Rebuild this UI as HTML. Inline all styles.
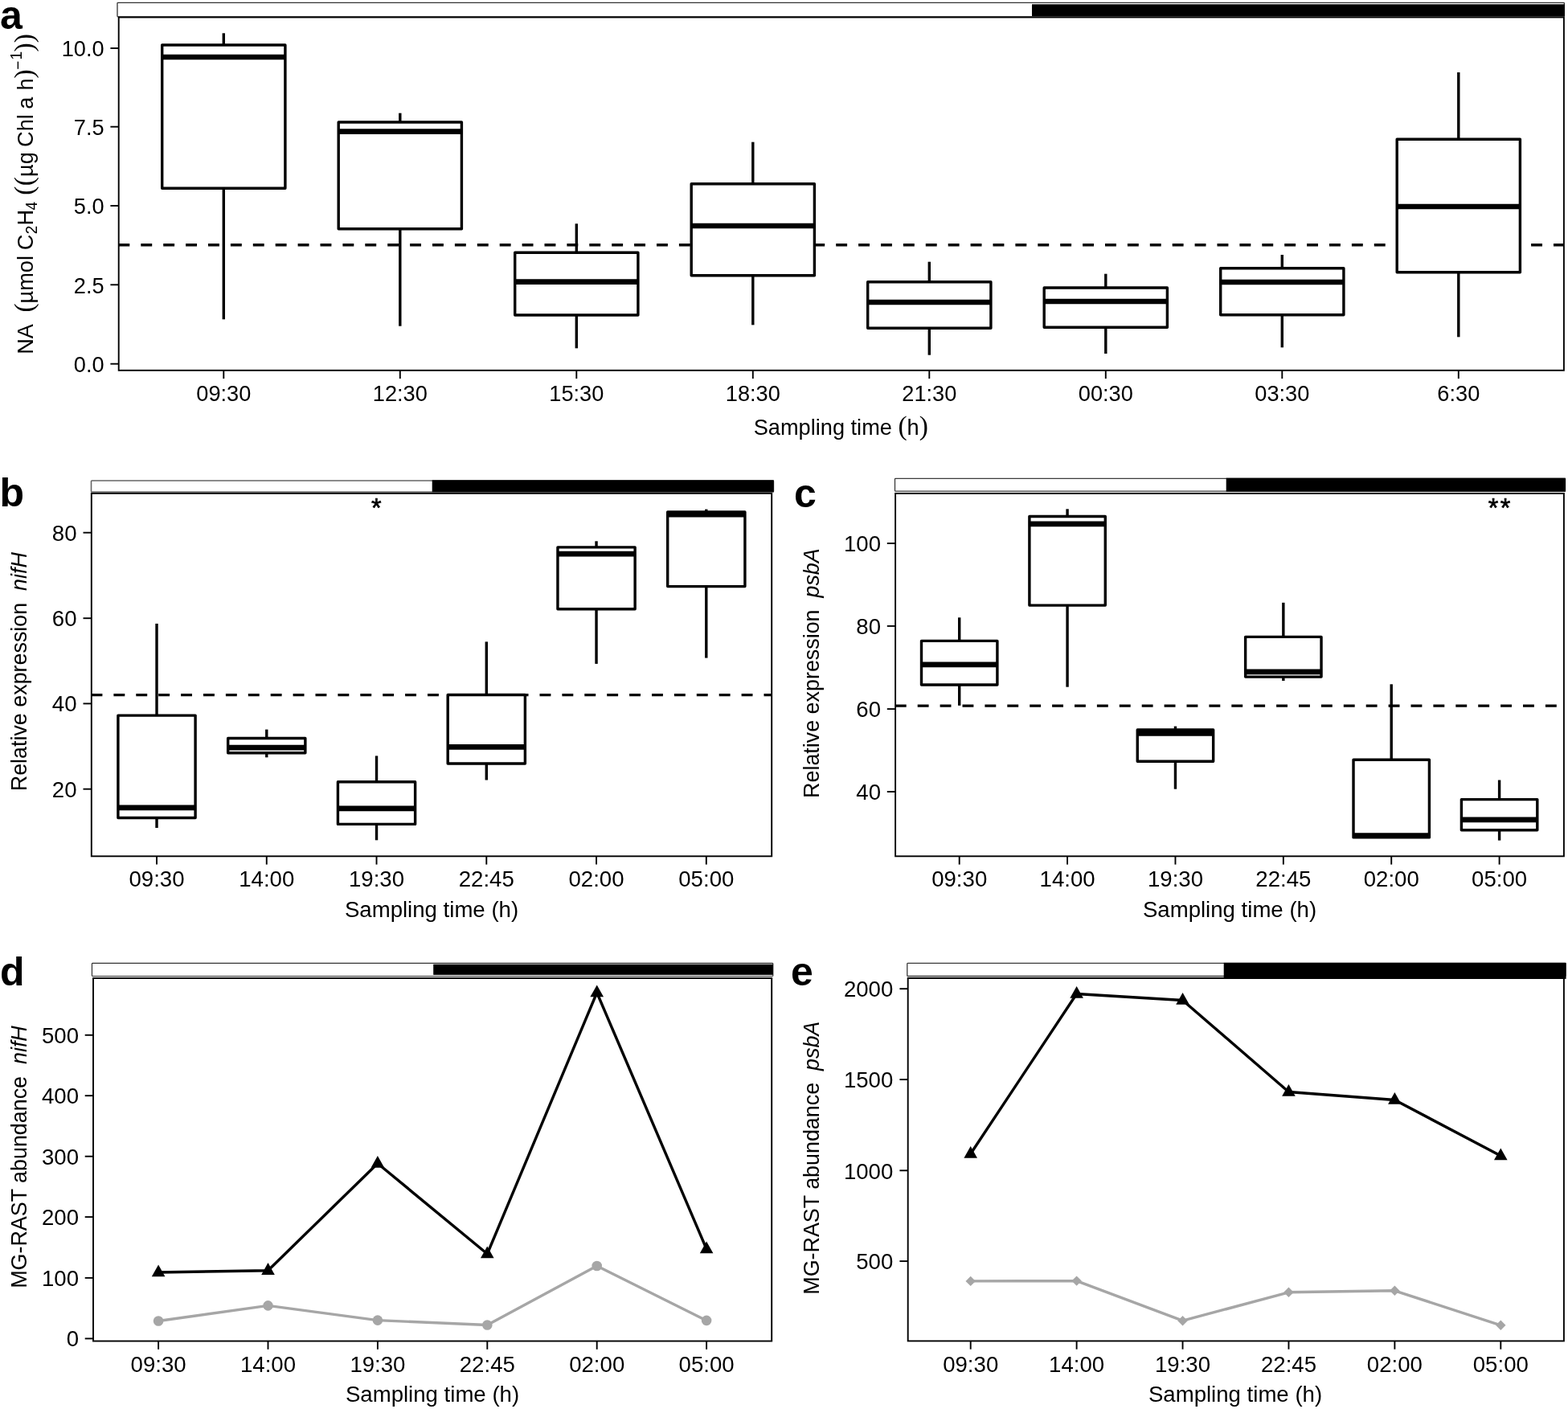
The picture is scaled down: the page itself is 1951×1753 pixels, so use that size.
<!DOCTYPE html>
<html lang="en">
<head>
<meta charset="utf-8">
<title>Figure: diel nitrogenase activity and gene expression</title>
<style>
html,body{margin:0;padding:0;background:#fff;}
body{width:1951px;height:1753px;overflow:hidden;}
svg{display:block;font-family:"Liberation Sans",Arial,Helvetica,sans-serif;fill:#000;}
</style>
</head>
<body>
<svg xmlns="http://www.w3.org/2000/svg" width="1951" height="1753" viewBox="0 0 1951 1753">
<rect width="1951" height="1753" fill="#fff"/>
<rect x="146.00" y="3.30" width="1800.40" height="17.60" rx="0.8" fill="#fff" stroke="#333" stroke-width="1.3"/>
<rect x="1284.00" y="5.30" width="662.90" height="14.70" fill="#000"/>
<rect x="147.70" y="21.50" width="1798.20" height="439.30" fill="none" stroke="#000" stroke-width="1.9"/>
<line x1="147.70" y1="304.70" x2="1945.90" y2="304.70" stroke="#000" stroke-width="3.4" stroke-dasharray="13.9 14.0" stroke-dashoffset="0.3"/>
<line x1="278.30" y1="41.30" x2="278.30" y2="56.00" stroke="#000" stroke-width="3.4" />
<line x1="278.30" y1="234.30" x2="278.30" y2="397.30" stroke="#000" stroke-width="3.4" />
<rect x="201.70" y="56.00" width="153.20" height="178.30" fill="#fff" stroke="#000" stroke-width="3.4" stroke-linejoin="round"/>
<line x1="201.70" y1="71.00" x2="354.90" y2="71.00" stroke="#000" stroke-width="6.7" />
<line x1="497.80" y1="140.70" x2="497.80" y2="152.00" stroke="#000" stroke-width="3.4" />
<line x1="497.80" y1="284.70" x2="497.80" y2="405.70" stroke="#000" stroke-width="3.4" />
<rect x="421.20" y="152.00" width="153.20" height="132.70" fill="#fff" stroke="#000" stroke-width="3.4" stroke-linejoin="round"/>
<line x1="421.20" y1="163.70" x2="574.40" y2="163.70" stroke="#000" stroke-width="6.7" />
<line x1="717.30" y1="278.30" x2="717.30" y2="314.30" stroke="#000" stroke-width="3.4" />
<line x1="717.30" y1="392.00" x2="717.30" y2="433.30" stroke="#000" stroke-width="3.4" />
<rect x="640.70" y="314.30" width="153.20" height="77.70" fill="#fff" stroke="#000" stroke-width="3.4" stroke-linejoin="round"/>
<line x1="640.70" y1="350.70" x2="793.90" y2="350.70" stroke="#000" stroke-width="6.7" />
<line x1="936.80" y1="176.70" x2="936.80" y2="228.70" stroke="#000" stroke-width="3.4" />
<line x1="936.80" y1="342.70" x2="936.80" y2="404.30" stroke="#000" stroke-width="3.4" />
<rect x="860.20" y="228.70" width="153.20" height="114.00" fill="#fff" stroke="#000" stroke-width="3.4" stroke-linejoin="round"/>
<line x1="860.20" y1="281.00" x2="1013.40" y2="281.00" stroke="#000" stroke-width="6.7" />
<line x1="1156.30" y1="325.70" x2="1156.30" y2="350.70" stroke="#000" stroke-width="3.4" />
<line x1="1156.30" y1="408.30" x2="1156.30" y2="441.70" stroke="#000" stroke-width="3.4" />
<rect x="1079.70" y="350.70" width="153.20" height="57.60" fill="#fff" stroke="#000" stroke-width="3.4" stroke-linejoin="round"/>
<line x1="1079.70" y1="376.00" x2="1232.90" y2="376.00" stroke="#000" stroke-width="6.7" />
<line x1="1375.80" y1="340.70" x2="1375.80" y2="358.00" stroke="#000" stroke-width="3.4" />
<line x1="1375.80" y1="407.30" x2="1375.80" y2="440.00" stroke="#000" stroke-width="3.4" />
<rect x="1299.20" y="358.00" width="153.20" height="49.30" fill="#fff" stroke="#000" stroke-width="3.4" stroke-linejoin="round"/>
<line x1="1299.20" y1="375.00" x2="1452.40" y2="375.00" stroke="#000" stroke-width="6.7" />
<line x1="1595.30" y1="317.00" x2="1595.30" y2="333.70" stroke="#000" stroke-width="3.4" />
<line x1="1595.30" y1="391.70" x2="1595.30" y2="432.30" stroke="#000" stroke-width="3.4" />
<rect x="1518.70" y="333.70" width="153.20" height="58.00" fill="#fff" stroke="#000" stroke-width="3.4" stroke-linejoin="round"/>
<line x1="1518.70" y1="351.00" x2="1671.90" y2="351.00" stroke="#000" stroke-width="6.7" />
<line x1="1814.80" y1="90.00" x2="1814.80" y2="173.30" stroke="#000" stroke-width="3.4" />
<line x1="1814.80" y1="338.70" x2="1814.80" y2="419.30" stroke="#000" stroke-width="3.4" />
<rect x="1738.20" y="173.30" width="153.20" height="165.40" fill="#fff" stroke="#000" stroke-width="3.4" stroke-linejoin="round"/>
<line x1="1738.20" y1="257.00" x2="1891.40" y2="257.00" stroke="#000" stroke-width="6.7" />
<line x1="278.30" y1="460.80" x2="278.30" y2="471.10" stroke="#000" stroke-width="1.9" />
<text transform="translate(278.30,498.70) scale(0.985,1.035)" text-anchor="middle" font-size="27.6" >09:30</text>
<line x1="497.80" y1="460.80" x2="497.80" y2="471.10" stroke="#000" stroke-width="1.9" />
<text transform="translate(497.80,498.70) scale(0.985,1.035)" text-anchor="middle" font-size="27.6" >12:30</text>
<line x1="717.30" y1="460.80" x2="717.30" y2="471.10" stroke="#000" stroke-width="1.9" />
<text transform="translate(717.30,498.70) scale(0.985,1.035)" text-anchor="middle" font-size="27.6" >15:30</text>
<line x1="936.80" y1="460.80" x2="936.80" y2="471.10" stroke="#000" stroke-width="1.9" />
<text transform="translate(936.80,498.70) scale(0.985,1.035)" text-anchor="middle" font-size="27.6" >18:30</text>
<line x1="1156.30" y1="460.80" x2="1156.30" y2="471.10" stroke="#000" stroke-width="1.9" />
<text transform="translate(1156.30,498.70) scale(0.985,1.035)" text-anchor="middle" font-size="27.6" >21:30</text>
<line x1="1375.80" y1="460.80" x2="1375.80" y2="471.10" stroke="#000" stroke-width="1.9" />
<text transform="translate(1375.80,498.70) scale(0.985,1.035)" text-anchor="middle" font-size="27.6" >00:30</text>
<line x1="1595.30" y1="460.80" x2="1595.30" y2="471.10" stroke="#000" stroke-width="1.9" />
<text transform="translate(1595.30,498.70) scale(0.985,1.035)" text-anchor="middle" font-size="27.6" >03:30</text>
<line x1="1814.80" y1="460.80" x2="1814.80" y2="471.10" stroke="#000" stroke-width="1.9" />
<text transform="translate(1814.80,498.70) scale(0.985,1.035)" text-anchor="middle" font-size="27.6" >6:30</text>
<line x1="137.40" y1="60.00" x2="147.70" y2="60.00" stroke="#000" stroke-width="1.9" />
<text transform="translate(129.60,70.40) scale(0.985,1.035)" text-anchor="end" font-size="27.6" >10.0</text>
<line x1="137.40" y1="157.70" x2="147.70" y2="157.70" stroke="#000" stroke-width="1.9" />
<text transform="translate(129.60,168.10) scale(0.985,1.035)" text-anchor="end" font-size="27.6" >7.5</text>
<line x1="137.40" y1="256.00" x2="147.70" y2="256.00" stroke="#000" stroke-width="1.9" />
<text transform="translate(129.60,266.40) scale(0.985,1.035)" text-anchor="end" font-size="27.6" >5.0</text>
<line x1="137.40" y1="354.30" x2="147.70" y2="354.30" stroke="#000" stroke-width="1.9" />
<text transform="translate(129.60,364.70) scale(0.985,1.035)" text-anchor="end" font-size="27.6" >2.5</text>
<line x1="137.40" y1="452.70" x2="147.70" y2="452.70" stroke="#000" stroke-width="1.9" />
<text transform="translate(129.60,463.10) scale(0.985,1.035)" text-anchor="end" font-size="27.6" >0.0</text>
<text transform="translate(0.0,35.5) scale(1,1)" font-size="50" font-weight="bold">a</text>
<text transform="translate(937.70,540.50) scale(0.985,1.035)" text-anchor="start" font-size="27.6" >Sampling time</text>
<text transform="translate(1117.40,541.00) scale(1,1)" text-anchor="start" font-size="33.5" font-family="Liberation Serif, serif">(</text>
<text transform="translate(1128.40,540.50) scale(0.985,1.035)" text-anchor="start" font-size="27.6" >h</text>
<text transform="translate(1143.80,541.00) scale(1,1)" text-anchor="start" font-size="33.5" font-family="Liberation Serif, serif">)</text>
<text transform="translate(41,440.80) rotate(-90) scale(0.985,1.035)" font-size="27.6">NA</text>
<text transform="translate(40.5,388.50) rotate(-90)" font-size="33.5" font-family="Liberation Serif, serif">(</text>
<text transform="translate(41,377.50) rotate(-90) scale(0.985,1.035)" font-size="27.6">µmol</text>
<text transform="translate(41,311.30) rotate(-90) scale(0.985,1.035)" font-size="27.6">C</text>
<text transform="translate(46.2,291.30) rotate(-90) scale(0.985,1.035)" font-size="19.3">2</text>
<text transform="translate(41,280.40) rotate(-90) scale(0.985,1.035)" font-size="27.6">H</text>
<text transform="translate(46.2,261.40) rotate(-90) scale(0.985,1.035)" font-size="19.3">4</text>
<text transform="translate(40.5,242.80) rotate(-90)" font-size="33.5" font-family="Liberation Serif, serif">(</text>
<text transform="translate(40.5,231.20) rotate(-90)" font-size="33.5" font-family="Liberation Serif, serif">(</text>
<text transform="translate(41,219.90) rotate(-90) scale(0.985,1.035)" font-size="27.6">µg</text>
<text transform="translate(41,182.90) rotate(-90) scale(0.985,1.035)" font-size="27.6">Chl</text>
<text transform="translate(41,135.70) rotate(-90) scale(0.985,1.035)" font-size="27.6">a</text>
<text transform="translate(41,112.60) rotate(-90) scale(0.985,1.035)" font-size="27.6">h</text>
<text transform="translate(40.5,97.40) rotate(-90)" font-size="33.5" font-family="Liberation Serif, serif">)</text>
<text transform="translate(28.6,86.70) rotate(-90) scale(0.985,1.035)" font-size="19.3">−</text>
<text transform="translate(27.2,74.50) rotate(-90) scale(0.985,1.035)" font-size="19.3">1</text>
<text transform="translate(40.5,64.50) rotate(-90)" font-size="33.5" font-family="Liberation Serif, serif">)</text>
<text transform="translate(40.5,53.30) rotate(-90)" font-size="33.5" font-family="Liberation Serif, serif">)</text>
<rect x="113.50" y="598.00" width="848.90" height="14.00" rx="0.8" fill="#fff" stroke="#666" stroke-width="1.6"/>
<rect x="537.70" y="597.30" width="425.10" height="14.90" fill="#000"/>
<rect x="113.80" y="613.80" width="846.40" height="451.50" fill="none" stroke="#000" stroke-width="1.9"/>
<line x1="113.80" y1="864.60" x2="960.20" y2="864.60" stroke="#000" stroke-width="3.4" stroke-dasharray="13.9 14.0" stroke-dashoffset="0.3"/>
<line x1="195.00" y1="775.90" x2="195.00" y2="890.10" stroke="#000" stroke-width="3.4" />
<line x1="195.00" y1="1017.50" x2="195.00" y2="1030.00" stroke="#000" stroke-width="3.4" />
<rect x="146.90" y="890.10" width="96.20" height="127.40" fill="#fff" stroke="#000" stroke-width="3.4" stroke-linejoin="round"/>
<line x1="146.90" y1="1004.90" x2="243.10" y2="1004.90" stroke="#000" stroke-width="6.7" />
<line x1="331.76" y1="907.60" x2="331.76" y2="918.50" stroke="#000" stroke-width="3.4" />
<line x1="331.76" y1="936.70" x2="331.76" y2="942.30" stroke="#000" stroke-width="3.4" />
<rect x="283.66" y="918.50" width="96.20" height="18.20" fill="#fff" stroke="#000" stroke-width="3.4" stroke-linejoin="round"/>
<line x1="283.66" y1="930.10" x2="379.86" y2="930.10" stroke="#000" stroke-width="6.7" />
<line x1="468.52" y1="940.40" x2="468.52" y2="972.80" stroke="#000" stroke-width="3.4" />
<line x1="468.52" y1="1025.40" x2="468.52" y2="1045.30" stroke="#000" stroke-width="3.4" />
<rect x="420.42" y="972.80" width="96.20" height="52.60" fill="#fff" stroke="#000" stroke-width="3.4" stroke-linejoin="round"/>
<line x1="420.42" y1="1005.90" x2="516.62" y2="1005.90" stroke="#000" stroke-width="6.7" />
<line x1="605.28" y1="798.40" x2="605.28" y2="864.50" stroke="#000" stroke-width="3.4" />
<line x1="605.28" y1="950.00" x2="605.28" y2="970.50" stroke="#000" stroke-width="3.4" />
<rect x="557.18" y="864.50" width="96.20" height="85.50" fill="#fff" stroke="#000" stroke-width="3.4" stroke-linejoin="round"/>
<line x1="557.18" y1="929.40" x2="653.38" y2="929.40" stroke="#000" stroke-width="6.7" />
<line x1="742.04" y1="673.30" x2="742.04" y2="680.90" stroke="#000" stroke-width="3.4" />
<line x1="742.04" y1="757.70" x2="742.04" y2="825.90" stroke="#000" stroke-width="3.4" />
<rect x="693.94" y="680.90" width="96.20" height="76.80" fill="#fff" stroke="#000" stroke-width="3.4" stroke-linejoin="round"/>
<line x1="693.94" y1="689.20" x2="790.14" y2="689.20" stroke="#000" stroke-width="6.7" />
<line x1="878.80" y1="633.60" x2="878.80" y2="636.90" stroke="#000" stroke-width="3.4" />
<line x1="878.80" y1="729.60" x2="878.80" y2="818.60" stroke="#000" stroke-width="3.4" />
<rect x="830.70" y="636.90" width="96.20" height="92.70" fill="#fff" stroke="#000" stroke-width="3.4" stroke-linejoin="round"/>
<line x1="830.70" y1="640.20" x2="926.90" y2="640.20" stroke="#000" stroke-width="6.7" />
<line x1="195.00" y1="1065.30" x2="195.00" y2="1075.60" stroke="#000" stroke-width="1.9" />
<text transform="translate(195.00,1102.50) scale(1.0,1.015)" text-anchor="middle" font-size="27.6" >09:30</text>
<line x1="331.76" y1="1065.30" x2="331.76" y2="1075.60" stroke="#000" stroke-width="1.9" />
<text transform="translate(331.76,1102.50) scale(1.0,1.015)" text-anchor="middle" font-size="27.6" >14:00</text>
<line x1="468.52" y1="1065.30" x2="468.52" y2="1075.60" stroke="#000" stroke-width="1.9" />
<text transform="translate(468.52,1102.50) scale(1.0,1.015)" text-anchor="middle" font-size="27.6" >19:30</text>
<line x1="605.28" y1="1065.30" x2="605.28" y2="1075.60" stroke="#000" stroke-width="1.9" />
<text transform="translate(605.28,1102.50) scale(1.0,1.015)" text-anchor="middle" font-size="27.6" >22:45</text>
<line x1="742.04" y1="1065.30" x2="742.04" y2="1075.60" stroke="#000" stroke-width="1.9" />
<text transform="translate(742.04,1102.50) scale(1.0,1.015)" text-anchor="middle" font-size="27.6" >02:00</text>
<line x1="878.80" y1="1065.30" x2="878.80" y2="1075.60" stroke="#000" stroke-width="1.9" />
<text transform="translate(878.80,1102.50) scale(1.0,1.015)" text-anchor="middle" font-size="27.6" >05:00</text>
<line x1="103.50" y1="662.70" x2="113.80" y2="662.70" stroke="#000" stroke-width="1.9" />
<text transform="translate(95.50,672.60) scale(1.0,1.015)" text-anchor="end" font-size="27.6" >80</text>
<line x1="103.50" y1="769.20" x2="113.80" y2="769.20" stroke="#000" stroke-width="1.9" />
<text transform="translate(95.50,779.10) scale(1.0,1.015)" text-anchor="end" font-size="27.6" >60</text>
<line x1="103.50" y1="875.40" x2="113.80" y2="875.40" stroke="#000" stroke-width="1.9" />
<text transform="translate(95.50,885.30) scale(1.0,1.015)" text-anchor="end" font-size="27.6" >40</text>
<line x1="103.50" y1="981.70" x2="113.80" y2="981.70" stroke="#000" stroke-width="1.9" />
<text transform="translate(95.50,991.60) scale(1.0,1.015)" text-anchor="end" font-size="27.6" >20</text>
<text transform="translate(-0.5,630.1) scale(1,1)" font-size="50" font-weight="bold">b</text>
<text transform="translate(537.00,1141.10) scale(1.0,1.015)" text-anchor="middle" font-size="27.6" >Sampling time (h)</text>
<text transform="translate(33.00,835.70) rotate(-90) scale(0.974,1.015)" text-anchor="middle" font-size="27.6" xml:space="preserve">Relative expression  <tspan font-style="italic">nifH</tspan></text>
<text transform="translate(468.30,642.70) scale(1,1)" text-anchor="middle" font-size="32.3" stroke="#000" stroke-width="0.7" >*</text>
<rect x="1113.50" y="595.30" width="834.00" height="15.90" rx="0.8" fill="#fff" stroke="#3a3a3a" stroke-width="1.3"/>
<rect x="1525.70" y="594.70" width="422.30" height="17.00" fill="#000"/>
<rect x="1114.10" y="613.90" width="831.80" height="451.40" fill="none" stroke="#000" stroke-width="1.9"/>
<line x1="1114.10" y1="878.10" x2="1945.90" y2="878.10" stroke="#000" stroke-width="3.4" stroke-dasharray="13.9 14.0" stroke-dashoffset="0.3"/>
<line x1="1193.70" y1="768.30" x2="1193.70" y2="797.40" stroke="#000" stroke-width="3.4" />
<line x1="1193.70" y1="852.00" x2="1193.70" y2="877.80" stroke="#000" stroke-width="3.4" />
<rect x="1146.50" y="797.40" width="94.40" height="54.60" fill="#fff" stroke="#000" stroke-width="3.4" stroke-linejoin="round"/>
<line x1="1146.50" y1="826.90" x2="1240.90" y2="826.90" stroke="#000" stroke-width="6.7" />
<line x1="1328.08" y1="633.30" x2="1328.08" y2="642.50" stroke="#000" stroke-width="3.4" />
<line x1="1328.08" y1="753.10" x2="1328.08" y2="854.70" stroke="#000" stroke-width="3.4" />
<rect x="1280.88" y="642.50" width="94.40" height="110.60" fill="#fff" stroke="#000" stroke-width="3.4" stroke-linejoin="round"/>
<line x1="1280.88" y1="651.80" x2="1375.28" y2="651.80" stroke="#000" stroke-width="6.7" />
<line x1="1462.46" y1="903.60" x2="1462.46" y2="907.90" stroke="#000" stroke-width="3.4" />
<line x1="1462.46" y1="947.30" x2="1462.46" y2="981.70" stroke="#000" stroke-width="3.4" />
<rect x="1415.26" y="907.90" width="94.40" height="39.40" fill="#fff" stroke="#000" stroke-width="3.4" stroke-linejoin="round"/>
<line x1="1415.26" y1="912.30" x2="1509.66" y2="912.30" stroke="#000" stroke-width="6.7" />
<line x1="1596.84" y1="749.80" x2="1596.84" y2="792.40" stroke="#000" stroke-width="3.4" />
<line x1="1596.84" y1="842.10" x2="1596.84" y2="847.00" stroke="#000" stroke-width="3.4" />
<rect x="1549.64" y="792.40" width="94.40" height="49.70" fill="#fff" stroke="#000" stroke-width="3.4" stroke-linejoin="round"/>
<line x1="1549.64" y1="835.80" x2="1644.04" y2="835.80" stroke="#000" stroke-width="6.7" />
<line x1="1731.22" y1="851.30" x2="1731.22" y2="945.30" stroke="#000" stroke-width="3.4" />
<line x1="1731.22" y1="1041.90" x2="1731.22" y2="1041.90" stroke="#000" stroke-width="3.4" />
<rect x="1684.02" y="945.30" width="94.40" height="96.60" fill="#fff" stroke="#000" stroke-width="3.4" stroke-linejoin="round"/>
<line x1="1684.02" y1="1039.60" x2="1778.42" y2="1039.60" stroke="#000" stroke-width="6.7" />
<line x1="1865.60" y1="970.50" x2="1865.60" y2="994.60" stroke="#000" stroke-width="3.4" />
<line x1="1865.60" y1="1032.70" x2="1865.60" y2="1045.60" stroke="#000" stroke-width="3.4" />
<rect x="1818.40" y="994.60" width="94.40" height="38.10" fill="#fff" stroke="#000" stroke-width="3.4" stroke-linejoin="round"/>
<line x1="1818.40" y1="1019.80" x2="1912.80" y2="1019.80" stroke="#000" stroke-width="6.7" />
<line x1="1193.70" y1="1065.30" x2="1193.70" y2="1075.60" stroke="#000" stroke-width="1.9" />
<text transform="translate(1193.70,1102.50) scale(1.0,1.015)" text-anchor="middle" font-size="27.6" >09:30</text>
<line x1="1328.08" y1="1065.30" x2="1328.08" y2="1075.60" stroke="#000" stroke-width="1.9" />
<text transform="translate(1328.08,1102.50) scale(1.0,1.015)" text-anchor="middle" font-size="27.6" >14:00</text>
<line x1="1462.46" y1="1065.30" x2="1462.46" y2="1075.60" stroke="#000" stroke-width="1.9" />
<text transform="translate(1462.46,1102.50) scale(1.0,1.015)" text-anchor="middle" font-size="27.6" >19:30</text>
<line x1="1596.84" y1="1065.30" x2="1596.84" y2="1075.60" stroke="#000" stroke-width="1.9" />
<text transform="translate(1596.84,1102.50) scale(1.0,1.015)" text-anchor="middle" font-size="27.6" >22:45</text>
<line x1="1731.22" y1="1065.30" x2="1731.22" y2="1075.60" stroke="#000" stroke-width="1.9" />
<text transform="translate(1731.22,1102.50) scale(1.0,1.015)" text-anchor="middle" font-size="27.6" >02:00</text>
<line x1="1865.60" y1="1065.30" x2="1865.60" y2="1075.60" stroke="#000" stroke-width="1.9" />
<text transform="translate(1865.60,1102.50) scale(1.0,1.015)" text-anchor="middle" font-size="27.6" >05:00</text>
<line x1="1103.80" y1="676.00" x2="1114.10" y2="676.00" stroke="#000" stroke-width="1.9" />
<text transform="translate(1096.00,686.20) scale(1.0,1.015)" text-anchor="end" font-size="27.6" >100</text>
<line x1="1103.80" y1="778.90" x2="1114.10" y2="778.90" stroke="#000" stroke-width="1.9" />
<text transform="translate(1096.00,789.10) scale(1.0,1.015)" text-anchor="end" font-size="27.6" >80</text>
<line x1="1103.80" y1="882.10" x2="1114.10" y2="882.10" stroke="#000" stroke-width="1.9" />
<text transform="translate(1096.00,892.30) scale(1.0,1.015)" text-anchor="end" font-size="27.6" >60</text>
<line x1="1103.80" y1="985.00" x2="1114.10" y2="985.00" stroke="#000" stroke-width="1.9" />
<text transform="translate(1096.00,995.20) scale(1.0,1.015)" text-anchor="end" font-size="27.6" >40</text>
<text transform="translate(988,631) scale(1,1)" font-size="50" font-weight="bold">c</text>
<text transform="translate(1530.00,1141.10) scale(1.0,1.015)" text-anchor="middle" font-size="27.6" >Sampling time (h)</text>
<text transform="translate(1019.00,837.60) rotate(-90) scale(0.974,1.015)" text-anchor="middle" font-size="27.6" xml:space="preserve">Relative expression  <tspan font-style="italic">psbA</tspan></text>
<text transform="translate(1866.75,642.70) scale(1,1)" text-anchor="middle" font-size="32.3" stroke="#000" stroke-width="0.7" letter-spacing="2.5">**</text>
<rect x="114.45" y="1198.45" width="847.35" height="16.05" rx="0.8" fill="#fff" stroke="#333" stroke-width="1.2"/>
<rect x="539.20" y="1199.70" width="422.60" height="13.20" fill="#000"/>
<rect x="116.00" y="1217.00" width="844.20" height="451.50" fill="none" stroke="#000" stroke-width="1.9"/>
<polyline points="197.10,1643.50 333.50,1624.40 469.90,1642.60 606.30,1648.50 742.70,1575.00 879.10,1642.90" fill="none" stroke="#a6a6a6" stroke-width="3.4" stroke-linejoin="round" stroke-linecap="butt"/>
<circle cx="197.10" cy="1643.50" r="6.3" fill="#a6a6a6"/>
<circle cx="333.50" cy="1624.40" r="6.3" fill="#a6a6a6"/>
<circle cx="469.90" cy="1642.60" r="6.3" fill="#a6a6a6"/>
<circle cx="606.30" cy="1648.50" r="6.3" fill="#a6a6a6"/>
<circle cx="742.70" cy="1575.00" r="6.3" fill="#a6a6a6"/>
<circle cx="879.10" cy="1642.90" r="6.3" fill="#a6a6a6"/>
<polyline points="197.10,1583.00 333.50,1580.70 469.90,1447.50 606.30,1560.00 742.70,1235.00 879.10,1554.00" fill="none" stroke="#000" stroke-width="3.4" stroke-linejoin="round" stroke-linecap="butt"/>
<polygon points="197.10,1573.40 188.80,1588.20 205.40,1588.20" fill="#000"/>
<polygon points="333.50,1571.10 325.20,1585.90 341.80,1585.90" fill="#000"/>
<polygon points="469.90,1437.90 461.60,1452.70 478.20,1452.70" fill="#000"/>
<polygon points="606.30,1550.40 598.00,1565.20 614.60,1565.20" fill="#000"/>
<polygon points="742.70,1225.40 734.40,1240.20 751.00,1240.20" fill="#000"/>
<polygon points="879.10,1544.40 870.80,1559.20 887.40,1559.20" fill="#000"/>
<line x1="197.10" y1="1668.50" x2="197.10" y2="1678.80" stroke="#000" stroke-width="1.9" />
<text transform="translate(197.10,1706.50) scale(1.0,1.015)" text-anchor="middle" font-size="27.6" >09:30</text>
<line x1="333.50" y1="1668.50" x2="333.50" y2="1678.80" stroke="#000" stroke-width="1.9" />
<text transform="translate(333.50,1706.50) scale(1.0,1.015)" text-anchor="middle" font-size="27.6" >14:00</text>
<line x1="469.90" y1="1668.50" x2="469.90" y2="1678.80" stroke="#000" stroke-width="1.9" />
<text transform="translate(469.90,1706.50) scale(1.0,1.015)" text-anchor="middle" font-size="27.6" >19:30</text>
<line x1="606.30" y1="1668.50" x2="606.30" y2="1678.80" stroke="#000" stroke-width="1.9" />
<text transform="translate(606.30,1706.50) scale(1.0,1.015)" text-anchor="middle" font-size="27.6" >22:45</text>
<line x1="742.70" y1="1668.50" x2="742.70" y2="1678.80" stroke="#000" stroke-width="1.9" />
<text transform="translate(742.70,1706.50) scale(1.0,1.015)" text-anchor="middle" font-size="27.6" >02:00</text>
<line x1="879.10" y1="1668.50" x2="879.10" y2="1678.80" stroke="#000" stroke-width="1.9" />
<text transform="translate(879.10,1706.50) scale(1.0,1.015)" text-anchor="middle" font-size="27.6" >05:00</text>
<line x1="105.70" y1="1287.80" x2="116.00" y2="1287.80" stroke="#000" stroke-width="1.9" />
<text transform="translate(98.00,1297.80) scale(1.0,1.015)" text-anchor="end" font-size="27.6" >500</text>
<line x1="105.70" y1="1363.20" x2="116.00" y2="1363.20" stroke="#000" stroke-width="1.9" />
<text transform="translate(98.00,1373.20) scale(1.0,1.015)" text-anchor="end" font-size="27.6" >400</text>
<line x1="105.70" y1="1438.70" x2="116.00" y2="1438.70" stroke="#000" stroke-width="1.9" />
<text transform="translate(98.00,1448.70) scale(1.0,1.015)" text-anchor="end" font-size="27.6" >300</text>
<line x1="105.70" y1="1514.10" x2="116.00" y2="1514.10" stroke="#000" stroke-width="1.9" />
<text transform="translate(98.00,1524.10) scale(1.0,1.015)" text-anchor="end" font-size="27.6" >200</text>
<line x1="105.70" y1="1589.90" x2="116.00" y2="1589.90" stroke="#000" stroke-width="1.9" />
<text transform="translate(98.00,1599.90) scale(1.0,1.015)" text-anchor="end" font-size="27.6" >100</text>
<line x1="105.70" y1="1665.40" x2="116.00" y2="1665.40" stroke="#000" stroke-width="1.9" />
<text transform="translate(98.00,1675.40) scale(1.0,1.015)" text-anchor="end" font-size="27.6" >0</text>
<text transform="translate(0,1226) scale(1,1)" font-size="50" font-weight="bold">d</text>
<text transform="translate(538.00,1744.00) scale(1.0,1.015)" text-anchor="middle" font-size="27.6" >Sampling time (h)</text>
<text transform="translate(33.00,1439.50) rotate(-90) scale(0.974,1.015)" text-anchor="middle" font-size="27.6" xml:space="preserve">MG-RAST abundance  <tspan font-style="italic">nifH</tspan></text>
<rect x="1128.80" y="1198.45" width="819.20" height="16.05" rx="0.8" fill="#fff" stroke="#3a3a3a" stroke-width="1.3"/>
<rect x="1522.70" y="1197.80" width="425.90" height="20.10" fill="#000"/>
<rect x="1129.70" y="1217.00" width="816.20" height="451.40" fill="none" stroke="#000" stroke-width="1.9"/>
<polyline points="1207.70,1593.90 1339.62,1593.60 1471.54,1643.20 1603.46,1607.80 1735.38,1605.80 1867.30,1648.80" fill="none" stroke="#a6a6a6" stroke-width="3.4" stroke-linejoin="round" stroke-linecap="butt"/>
<polygon points="1207.70,1587.70 1213.90,1593.90 1207.70,1600.10 1201.50,1593.90" fill="#a6a6a6"/>
<polygon points="1339.62,1587.40 1345.82,1593.60 1339.62,1599.80 1333.42,1593.60" fill="#a6a6a6"/>
<polygon points="1471.54,1637.00 1477.74,1643.20 1471.54,1649.40 1465.34,1643.20" fill="#a6a6a6"/>
<polygon points="1603.46,1601.60 1609.66,1607.80 1603.46,1614.00 1597.26,1607.80" fill="#a6a6a6"/>
<polygon points="1735.38,1599.60 1741.58,1605.80 1735.38,1612.00 1729.18,1605.80" fill="#a6a6a6"/>
<polygon points="1867.30,1642.60 1873.50,1648.80 1867.30,1655.00 1861.10,1648.80" fill="#a6a6a6"/>
<polyline points="1207.70,1435.50 1339.62,1236.50 1471.54,1244.50 1603.46,1358.50 1735.38,1368.50 1867.30,1438.00" fill="none" stroke="#000" stroke-width="3.4" stroke-linejoin="round" stroke-linecap="butt"/>
<polygon points="1207.70,1425.90 1199.40,1440.70 1216.00,1440.70" fill="#000"/>
<polygon points="1339.62,1226.90 1331.32,1241.70 1347.92,1241.70" fill="#000"/>
<polygon points="1471.54,1234.90 1463.24,1249.70 1479.84,1249.70" fill="#000"/>
<polygon points="1603.46,1348.90 1595.16,1363.70 1611.76,1363.70" fill="#000"/>
<polygon points="1735.38,1358.90 1727.08,1373.70 1743.68,1373.70" fill="#000"/>
<polygon points="1867.30,1428.40 1859.00,1443.20 1875.60,1443.20" fill="#000"/>
<line x1="1207.70" y1="1668.40" x2="1207.70" y2="1678.70" stroke="#000" stroke-width="1.9" />
<text transform="translate(1207.70,1706.50) scale(1.0,1.015)" text-anchor="middle" font-size="27.6" >09:30</text>
<line x1="1339.62" y1="1668.40" x2="1339.62" y2="1678.70" stroke="#000" stroke-width="1.9" />
<text transform="translate(1339.62,1706.50) scale(1.0,1.015)" text-anchor="middle" font-size="27.6" >14:00</text>
<line x1="1471.54" y1="1668.40" x2="1471.54" y2="1678.70" stroke="#000" stroke-width="1.9" />
<text transform="translate(1471.54,1706.50) scale(1.0,1.015)" text-anchor="middle" font-size="27.6" >19:30</text>
<line x1="1603.46" y1="1668.40" x2="1603.46" y2="1678.70" stroke="#000" stroke-width="1.9" />
<text transform="translate(1603.46,1706.50) scale(1.0,1.015)" text-anchor="middle" font-size="27.6" >22:45</text>
<line x1="1735.38" y1="1668.40" x2="1735.38" y2="1678.70" stroke="#000" stroke-width="1.9" />
<text transform="translate(1735.38,1706.50) scale(1.0,1.015)" text-anchor="middle" font-size="27.6" >02:00</text>
<line x1="1867.30" y1="1668.40" x2="1867.30" y2="1678.70" stroke="#000" stroke-width="1.9" />
<text transform="translate(1867.30,1706.50) scale(1.0,1.015)" text-anchor="middle" font-size="27.6" >05:00</text>
<line x1="1119.40" y1="1230.20" x2="1129.70" y2="1230.20" stroke="#000" stroke-width="1.9" />
<text transform="translate(1111.30,1240.40) scale(1.0,1.015)" text-anchor="end" font-size="27.6" >2000</text>
<line x1="1119.40" y1="1343.10" x2="1129.70" y2="1343.10" stroke="#000" stroke-width="1.9" />
<text transform="translate(1111.30,1353.30) scale(1.0,1.015)" text-anchor="end" font-size="27.6" >1500</text>
<line x1="1119.40" y1="1456.30" x2="1129.70" y2="1456.30" stroke="#000" stroke-width="1.9" />
<text transform="translate(1111.30,1466.50) scale(1.0,1.015)" text-anchor="end" font-size="27.6" >1000</text>
<line x1="1119.40" y1="1569.10" x2="1129.70" y2="1569.10" stroke="#000" stroke-width="1.9" />
<text transform="translate(1111.30,1579.30) scale(1.0,1.015)" text-anchor="end" font-size="27.6" >500</text>
<text transform="translate(984,1226) scale(1,1)" font-size="50" font-weight="bold">e</text>
<text transform="translate(1537.00,1744.00) scale(1.0,1.015)" text-anchor="middle" font-size="27.6" >Sampling time (h)</text>
<text transform="translate(1019.00,1440.70) rotate(-90) scale(0.974,1.015)" text-anchor="middle" font-size="27.6" xml:space="preserve">MG-RAST abundance  <tspan font-style="italic">psbA</tspan></text>
</svg>
</body>
</html>
